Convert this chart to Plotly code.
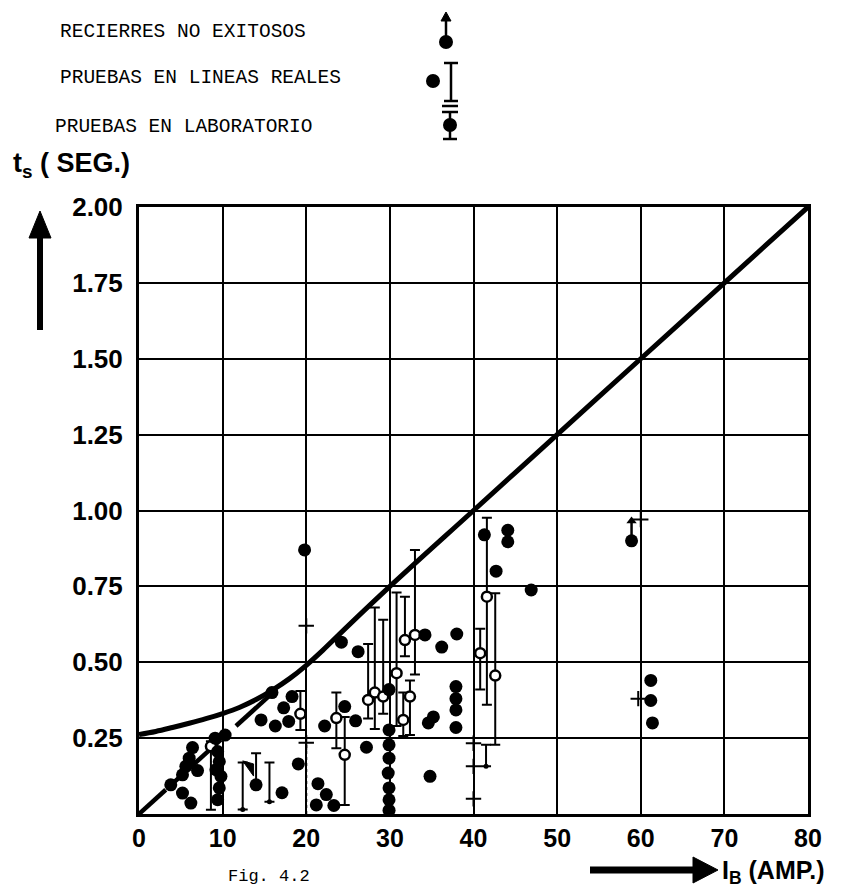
import plotly.graph_objects as go

# ---------------- data ----------------
curve_I = [0, 2, 4, 6, 8, 10, 12, 14, 16, 18, 20, 22, 25, 30, 40, 50, 60, 70, 80]
curve_t = [0.262, 0.272, 0.285, 0.299, 0.314, 0.331, 0.351, 0.377, 0.409, 0.446, 0.49, 0.54, 0.62, 0.75, 1.0, 1.25, 1.5, 1.75, 2.0]

dash_I = [0, 3.2, None, 4.2, 9.8, None, 11.6, 15.8]
dash_t = [0, 0.08, None, 0.105, 0.245, None, 0.29, 0.395]

dots_I = [15.9, 18.3, 17.3, 14.6, 16.3, 17.9, 10.3, 9.1,
          6.4, 6.0, 5.6, 7.0, 5.2, 3.8, 5.2, 6.2,
          9.4, 9.6, 9.2, 9.8, 9.6, 9.4, 14.0, 17.1,
          19.05, 19.8, 24.2, 26.2, 24.6, 22.2, 25.9, 27.2, 21.4, 22.4, 23.3, 21.2,
          29.9, 29.9, 29.9, 29.9, 29.8, 29.9, 29.9, 29.9,
          34.2, 36.2, 38.0, 37.9, 37.9, 37.9, 37.9, 35.2, 34.6, 34.8,
          41.3, 42.7, 46.9, 44.1, 44.1,
          61.2, 61.2, 61.4]
dots_t = [0.40, 0.387, 0.35, 0.31, 0.29, 0.305, 0.26, 0.25,
          0.219, 0.184, 0.157, 0.143, 0.129, 0.096, 0.069, 0.036,
          0.206, 0.173, 0.146, 0.124, 0.086, 0.047, 0.096, 0.07,
          0.165, 0.87, 0.566, 0.535, 0.354, 0.29, 0.307, 0.22, 0.10, 0.064, 0.028, 0.03,
          0.41, 0.277, 0.228, 0.184, 0.135, 0.086, 0.047, 0.012,
          0.59, 0.55, 0.593, 0.42, 0.38, 0.343, 0.285, 0.32, 0.30, 0.124,
          0.92, 0.80, 0.738, 0.935, 0.897,
          0.44, 0.374, 0.30]

open_I = [8.6, 19.3, 23.6, 24.6, 27.4, 28.2, 29.2, 30.8, 31.6, 32.4, 31.8, 33.0, 40.8, 41.6, 42.6]
open_t = [0.223, 0.33, 0.316, 0.195, 0.376, 0.40, 0.387, 0.464, 0.31, 0.387, 0.573, 0.59, 0.53, 0.716, 0.456]
open_hi = [0.24, 0.405, 0.40, 0.32, 0.56, 0.68, 0.64, 0.73, 0.40, 0.44, 0.716, 0.87, 0.61, 0.976, 0.727]
open_lo = [0.014, 0.277, 0.217, 0.03, 0.315, 0.28, 0.33, 0.29, 0.257, 0.26, 0.52, 0.46, 0.41, 0.36, 0.228]

bar_I = [12.4, 14.0, 15.6, 41.5]
bar_hi = [0.17, 0.20, 0.17, 0.228]
bar_lo = [0.015, 0.096, 0.04, 0.157]

flag_I = [12.4, 13.7, 13.7, 12.4]
flag_t = [0.175, 0.165, 0.125, 0.175]

fail_I = [58.9]
fail_t = [0.90]
fail_top = [0.965]

plus_I = [20, 20, 40, 40, 40, 59.7, 60]
plus_t = [0.62, 0.235, 0.233, 0.157, 0.05, 0.38, 0.97]

xticks = [0, 10, 20, 30, 40, 50, 60, 70, 80]
yticks = [0.25, 0.50, 0.75, 1.00, 1.25, 1.50, 1.75, 2.00]
ytext = ["0.25", "0.50", "0.75", "1.00", "1.25", "1.50", "1.75", "2.00"]

legend_labels = ["RECIERRES NO EXITOSOS", "PRUEBAS EN LINEAS REALES", "PRUEBAS EN LABORATORIO"]

# ---------------- layout helpers (pixel -> paper) ----------------
W, H = 851, 889
L, R, T, B = 131, 51, 199, 83
PW, PH = W - L - R, H - T - B


def px(x):
    return (x - L) / PW


def py(y):
    return (H - B - y) / PH


fig = go.Figure()

fig.add_trace(go.Scatter(x=curve_I, y=curve_t, mode="lines",
                         line=dict(color="black", width=5, shape="spline"), hoverinfo="skip"))
fig.add_trace(go.Scatter(x=dash_I, y=dash_t, mode="lines",
                         line=dict(color="black", width=4.5), hoverinfo="skip"))
fig.add_trace(go.Scatter(x=[20, 20], y=[0.0, 0.235], mode="lines",
                         line=dict(color="black", width=2, dash="dot"), hoverinfo="skip"))

fig.add_trace(go.Scatter(x=flag_I, y=flag_t, mode="lines", fill="toself", fillcolor="black",
                         line=dict(color="black", width=1), hoverinfo="skip"))

# plain range bars
fig.add_trace(go.Scatter(
    x=bar_I, y=bar_lo, mode="markers",
    marker=dict(color="black", size=5),
    error_y=dict(type="data", symmetric=False,
                 array=[h - l for h, l in zip(bar_hi, bar_lo)],
                 arrayminus=[0] * len(bar_I),
                 color="black", thickness=2, width=5),
    hoverinfo="skip"))

# open circles with range bars
fig.add_trace(go.Scatter(
    x=open_I, y=open_t, mode="markers",
    marker=dict(color="white", size=10, line=dict(color="black", width=2.5)),
    error_y=dict(type="data", symmetric=False,
                 array=[h - t for h, t in zip(open_hi, open_t)],
                 arrayminus=[t - l for t, l in zip(open_t, open_lo)],
                 color="black", thickness=2, width=5),
    hoverinfo="skip"))

# filled dots
fig.add_trace(go.Scatter(x=dots_I, y=dots_t, mode="markers",
                         marker=dict(color="black", size=13), hoverinfo="skip"))

# unsuccessful reclosures (dot + arrow up)
for i, t, tt in zip(fail_I, fail_t, fail_top):
    fig.add_trace(go.Scatter(x=[i, i], y=[t, tt], mode="lines",
                             line=dict(color="black", width=2.5), hoverinfo="skip"))
fig.add_trace(go.Scatter(x=fail_I, y=fail_top, mode="markers",
                         marker=dict(symbol="triangle-up", color="black", size=9), hoverinfo="skip"))
fig.add_trace(go.Scatter(x=fail_I, y=fail_t, mode="markers",
                         marker=dict(color="black", size=13), hoverinfo="skip"))

# small plus marks
fig.add_trace(go.Scatter(x=plus_I, y=plus_t, mode="markers",
                         marker=dict(symbol="cross-thin", size=11, line=dict(color="black", width=2)),
                         hoverinfo="skip"))

shapes = []
annotations = []

# legend text
mono = dict(family="Liberation Mono, DejaVu Sans Mono, monospace", size=19.5, color="black")
for lab, yy, xx in zip(legend_labels, [24, 70, 119], [50, 50, 45]):
    annotations.append(dict(text=lab, xref="paper", yref="paper", x=px(xx), y=py(yy),
                            xanchor="left", yanchor="middle", showarrow=False, font=mono))


def line(x0, y0, x1, y1, w=2.5):
    shapes.append(dict(type="line", xref="paper", yref="paper",
                       x0=px(x0), y0=py(y0), x1=px(x1), y1=py(y1),
                       line=dict(color="black", width=w)))


def dot(cx, cy, r=6, fill="black"):
    shapes.append(dict(type="circle", xref="paper", yref="paper",
                       x0=px(cx - r), x1=px(cx + r), y0=py(cy + r), y1=py(cy - r),
                       fillcolor=fill, line=dict(color="black", width=2)))


def tri(pts):
    path = "M " + " L ".join(f"{px(a)},{py(b)}" for a, b in pts) + " Z"
    shapes.append(dict(type="path", xref="paper", yref="paper", path=path,
                       fillcolor="black", line=dict(color="black", width=1)))


# legend symbols
lx = 438
line(lx, 12, lx, 30)
tri([(lx - 5, 13), (lx + 5, 13), (lx, 4)])
dot(lx, 34)
dot(425, 73)
line(443, 55, 443, 93)
line(436, 55, 450, 55)
line(436, 93, 450, 93)
line(434, 98, 450, 98)
line(434, 104, 450, 104)
line(442, 104, 442, 131)
dot(442, 117)
line(435, 131, 449, 131)

# y axis title and arrow
annotations.append(dict(text="<b>t<sub>s</sub> ( SEG.)</b>", xref="paper", yref="paper",
                        x=px(3), y=py(157), xanchor="left", yanchor="middle", showarrow=False,
                        font=dict(family="Liberation Sans, Arial", size=27, color="black")))
line(32, 322, 32, 225, w=6)
tri([(21, 230), (43, 230), (32, 203)])

# x axis title and arrow
line(582, 862, 688, 862, w=7)
tri([(685, 849), (685, 875), (710, 862)])
annotations.append(dict(text="<b>I<sub>B</sub> (AMP.)</b>", xref="paper", yref="paper",
                        x=px(712), y=py(864), xanchor="left", yanchor="middle", showarrow=False,
                        font=dict(family="Liberation Sans, Arial", size=25, color="black")))

annotations.append(dict(text="Fig. 4.2", xref="paper", yref="paper",
                        x=px(218), y=py(868), xanchor="left", yanchor="middle", showarrow=False,
                        font=dict(family="Liberation Mono, DejaVu Sans Mono, monospace", size=17, color="black")))

axis_common = dict(showgrid=True, gridcolor="black", gridwidth=1.8, showline=True,
                   linecolor="black", linewidth=3, mirror=True, zeroline=False, ticks="")

fig.update_layout(
    width=W, height=H,
    margin=dict(l=L, r=R, t=T, b=B),
    paper_bgcolor="white", plot_bgcolor="white",
    showlegend=False,
    xaxis=dict(range=[0, 80], tickvals=xticks, ticklabelstandoff=0,
               tickfont=dict(family="Liberation Sans, Arial", size=25, color="black", weight="bold"),
               **axis_common),
    yaxis=dict(range=[0, 2], tickvals=yticks, ticktext=ytext, ticklabelstandoff=8,
               tickfont=dict(family="Liberation Sans, Arial", size=26, color="black", weight="bold"),
               **axis_common),
    shapes=shapes, annotations=annotations,
)

fig.write_html("out.html")
